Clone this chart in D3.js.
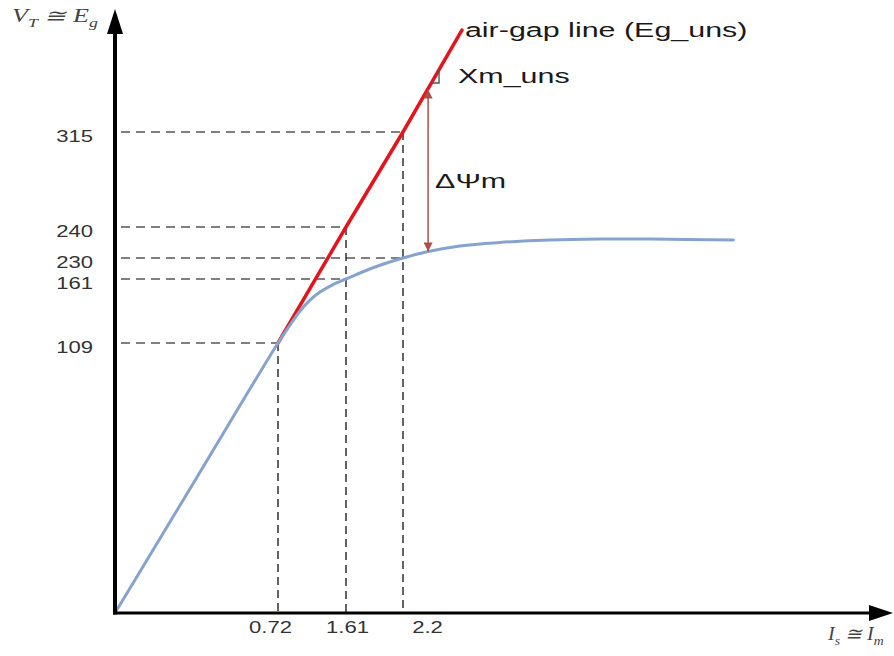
<!DOCTYPE html>
<html><head><meta charset="utf-8">
<script src="https://cdn.jsdelivr.net/npm/d3@7"></script>
<style>body{margin:0;background:#fff} svg{display:block}</style>
</head><body><svg id="c" width="894" height="656"></svg>
<script>
// ---- data (schematic values) ----
const yTicks = [109, 161, 230, 240, 315];
const xTicks = [0.72, 1.61, 2.2];
const xTickShift = [-8, 1, 24];
// magnetization (saturation) curve
const curveX = [0, 0.36, 0.72, 0.877, 1.008, 1.139, 1.27, 1.44, 1.61, 1.91, 2.2, 2.46, 2.79, 3.20, 3.72, 4.24, 4.76, 5.62];
const curveY = [0, 54.5, 109, 123.6, 135, 143.9, 150.4, 156.5, 161, 200.4, 230, 232.1, 233.9, 235.0, 235.8, 236.1, 236.1, 235.8];
// air-gap line (Eg_uns)
const airX = [0.72, 1.61, 2.2, 2.81];
const airY = [109, 240, 315, 395.5];
// delta-psi arrow
const psiX = 2.46;
const psiY = [348.5, 232.1];
// Xm_uns slope marker
const triX = [2.488, 2.573, 2.573];
const triY = [353.7, 353.7, 364.7];
// dashed guides
const hGuideX = [0.72, 1.61, 1.61, 2.2, 2.2];
const hGuideY = [109, 161, 240, 230, 315];
const vGuideX = [0.72, 1.61, 2.2];
const vGuideY = [109, 240, 315];

// ---- scales (schematic, piecewise) ----
const x = d3.scaleLinear().domain([0, 0.72, 1.61, 2.2]).range([115, 278, 346, 403]);
const y = d3.scaleLinear().domain([0, 109, 161, 230, 240, 315]).range([613, 343, 279, 258, 227, 132]);

const SX = 1.45; // horizontal stretch of text seen in the reference
const svg = d3.select('#c');
svg.append('rect').attr('width', 894).attr('height', 656).attr('fill', '#fff');

const defs = svg.append('defs');
defs.append('marker').attr('id', 'psi').attr('viewBox', '0 0 10 10')
  .attr('refX', 10).attr('refY', 5).attr('markerWidth', 11).attr('markerHeight', 9)
  .attr('markerUnits', 'userSpaceOnUse').attr('orient', 'auto-start-reverse')
  .append('path').attr('d', 'M0,0 L10,5 L0,10 Z').attr('fill', '#a9504b');

// dashed guides
const g = svg.append('g');
hGuideX.forEach((xv, i) => {
  g.append('line').attr('x1', x(0) + 6).attr('x2', x(xv))
    .attr('y1', y(hGuideY[i])).attr('y2', y(hGuideY[i]))
    .attr('stroke', '#555').attr('stroke-width', 1.4).attr('stroke-dasharray', '9,6');
});
vGuideX.forEach((xv, i) => {
  g.append('line').attr('x1', x(xv)).attr('x2', x(xv))
    .attr('y1', y(vGuideY[i])).attr('y2', y(0))
    .attr('stroke', '#222').attr('stroke-width', 1.4).attr('stroke-dasharray', '8,5');
});

// air-gap line
svg.append('path')
  .datum(airX.map((v, i) => [v, airY[i]]))
  .attr('d', d3.line().x(d => x(d[0])).y(d => y(d[1])))
  .attr('fill', 'none').attr('stroke', '#e3141b').attr('stroke-width', 3.5).attr('stroke-linecap', 'round');

// magnetization curve
svg.append('path')
  .datum(curveX.map((v, i) => [v, curveY[i]]))
  .attr('d', d3.line().x(d => x(d[0])).y(d => y(d[1])).curve(d3.curveCatmullRom.alpha(0.5)))
  .attr('fill', 'none').attr('stroke', '#86a3cf').attr('stroke-width', 3).attr('stroke-linecap', 'round');

// delta psi arrow
svg.append('line').attr('x1', x(psiX)).attr('x2', x(psiX))
  .attr('y1', y(psiY[0])).attr('y2', y(psiY[1]))
  .attr('stroke', '#a9504b').attr('stroke-width', 1.5)
  .attr('marker-start', 'url(#psi)').attr('marker-end', 'url(#psi)');

// Xm slope marker
svg.append('path')
  .datum(triX.map((v, i) => [v, triY[i]]))
  .attr('d', d3.line().x(d => x(d[0])).y(d => y(d[1])))
  .attr('fill', 'none').attr('stroke', '#555').attr('stroke-width', 1.4);

// axes lines with arrowheads
const x0 = x(0), y0 = y(0);
svg.append('line').attr('x1', x0).attr('x2', x0).attr('y1', y0 + 1.5).attr('y2', 30)
  .attr('stroke', '#000').attr('stroke-width', 4);
svg.append('path').attr('d', `M${x0},9 L${x0 - 8},34 L${x0 + 8},34 Z`).attr('fill', '#000');
svg.append('line').attr('x1', x0 - 2).attr('x2', 872).attr('y1', y0).attr('y2', y0)
  .attr('stroke', '#000').attr('stroke-width', 3);
svg.append('path').attr('d', `M893,${y0} L869,${y0 - 8} L869,${y0 + 8} Z`).attr('fill', '#000');

// tick labels through d3 axes
const TSX = 1.38;
const yAxis = svg.append('g').attr('transform', `translate(${x0},0)`)
  .call(d3.axisLeft(y).tickValues(yTicks).tickSize(0).tickFormat(d3.format('d')));
yAxis.select('.domain').remove();
yAxis.selectAll('text')
  .attr('font-family', 'Liberation Sans, Arial, sans-serif').attr('font-size', 16)
  .attr('fill', '#333').attr('transform', `scale(${TSX},1)`)
  .attr('x', -22 / TSX).attr('y', 4).attr('dy', '0.35em');

const xAxis = svg.append('g').attr('transform', `translate(0,${y0})`)
  .call(d3.axisBottom(x).tickValues(xTicks).tickSize(0).tickFormat(d => String(d)));
xAxis.select('.domain').remove();
xAxis.selectAll('.tick text')
  .attr('font-family', 'Liberation Sans, Arial, sans-serif').attr('font-size', 16)
  .attr('fill', '#333').attr('transform', `scale(${TSX},1)`)
  .attr('x', (d, i) => xTickShift[i] / TSX).attr('y', 9).attr('dy', '0.71em');

// annotation texts
function stext(px, py, parts, opts) {
  const sx = opts.sx || SX;
  const t = svg.append('text')
    .attr('transform', `translate(${px},${py}) scale(${sx},1)`)
    .attr('font-family', opts.family).attr('font-size', opts.size)
    .attr('font-style', opts.style || 'normal').attr('fill', opts.fill);
  parts.forEach(p => {
    const s = t.append('tspan').text(p.t);
    if (p.sub) s.attr('font-size', opts.size * 0.68).attr('dy', opts.size * 0.25);
    if (p.back) s.attr('dy', -opts.size * 0.25);
  });
  return t;
}
const sans = { family: 'Liberation Sans, Arial, sans-serif', size: 21, fill: '#1a1a1a' };
stext(x(airX[3]) + 3, y(airY[3]) + 7, [{ t: 'air-gap line (Eg_uns)' }], sans);
stext(x(triX[2]) + 19, y(triY[0]), [{ t: 'Xm_uns' }], sans);
stext(x(psiX) + 7, y(271), [{ t: 'ΔΨm' }], sans);

const serif = { family: 'Liberation Serif, Times New Roman, serif', size: 18, fill: '#444', style: 'italic' };
stext(12, 22, [{ t: 'V' }, { t: 'T', sub: true }, { t: ' ≅ ', back: true }, { t: 'E' }, { t: 'g', sub: true }], serif);
stext(828, 640, [{ t: 'I' }, { t: 's', sub: true }, { t: ' ≅ ', back: true }, { t: 'I' }, { t: 'm', sub: true }],
  Object.assign({}, serif, { sx: 1.12 }));
</script></body></html>
